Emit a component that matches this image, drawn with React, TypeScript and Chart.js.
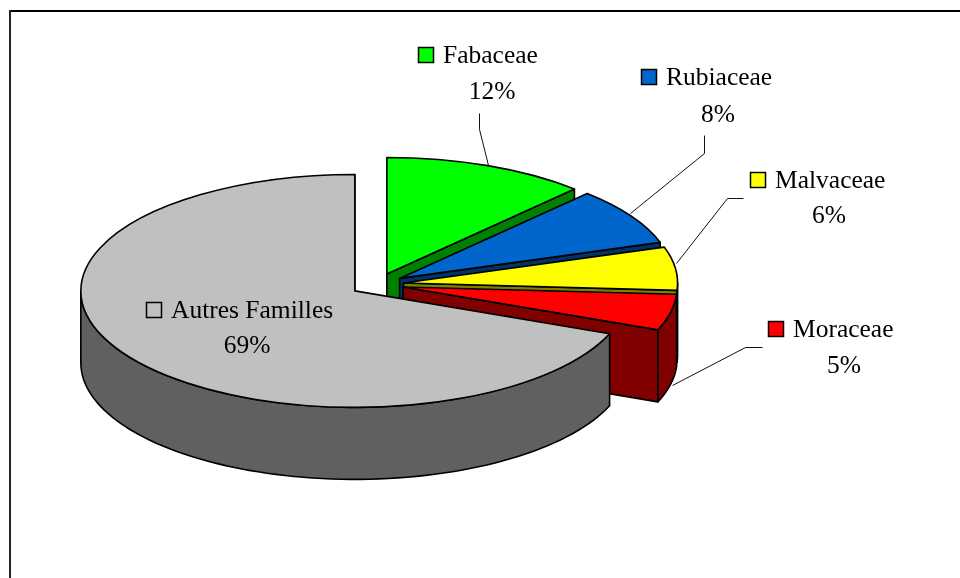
import React, { useEffect, useRef } from "react";
import { Chart, registerables } from "chart.js";

Chart.register(...registerables);

const categories = ["Fabaceae", "Rubiaceae", "Malvaceae", "Moraceae", "Autres Familles"];
const shares = [12, 8, 6, 5, 69];
const topColors = ["#00FF00", "#0066CC", "#FFFF00", "#FF0000", "#C0C0C0"];
const wallColors = ["#008000", "#003366", "#808000", "#800000", "#606060"];

// Label layout: swatch x, name baseline y, percent centre x, percent baseline y
const labelSwatchX = [418, 641, 750, 768, 146];
const labelNameY = [63, 85, 188, 337, 318];
const labelPctX = [492, 718, 829, 844, 247];
const labelPctY = [99, 122, 223, 373, 353];
const leaderLines: number[][][] = [
  [[479, 113], [479, 129], [488, 165]],
  [[704, 135], [704, 153], [630, 213]],
  [[743, 198], [727, 198], [676, 263]],
  [[762, 347], [745, 347], [672, 385]],
];

const TILT = 0.425;
const DEPTH = 72;
const EXPLODE = 26.8;
const RADIUS = 274;
const FONT = '25.5px "Liberation Serif"';

const pie3d = {
  id: "pie3d",
  beforeDraw(chart: any) {
    const { ctx, width, height } = chart;
    ctx.save();
    ctx.fillStyle = "#fff";
    ctx.fillRect(0, 0, width, height);
    ctx.fillStyle = "#000";
    ctx.fillRect(9, 10, width - 9, 2);
    ctx.fillStyle = "#222";
    ctx.fillRect(9, 10, 2, height - 10);
    ctx.restore();
  },
  beforeDatasetDraw(chart: any, args: any) {
    const { ctx } = chart;
    const arcs = args.meta.data;
    const origin = (arc: any) => {
      const mid = (arc.startAngle + arc.endAngle) / 2;
      return [arc.x + EXPLODE * Math.cos(mid), arc.y + EXPLODE * TILT * Math.sin(mid)];
    };
    const rim = (o: number[], r: number, a: number) => [o[0] + r * Math.cos(a), o[1] + r * TILT * Math.sin(a)];
    ctx.save();
    ctx.lineWidth = 1.6;
    ctx.strokeStyle = "#000";
    ctx.lineJoin = "round";
    // Walls, back to front
    arcs.forEach((arc: any, i: number) => {
      const o = origin(arc);
      const r = arc.outerRadius;
      ctx.fillStyle = wallColors[i];
      // start edge line, then cut face
      const s = rim(o, r, arc.startAngle);
      const e = rim(o, r, arc.endAngle);
      if (i === 0) {
        ctx.beginPath();
        ctx.moveTo(o[0], o[1]);
        ctx.lineTo(o[0], o[1] + DEPTH);
        ctx.stroke();
      }
      ctx.beginPath();
      ctx.moveTo(o[0], o[1]);
      ctx.lineTo(e[0], e[1]);
      ctx.lineTo(e[0], e[1] + DEPTH);
      ctx.lineTo(o[0], o[1] + DEPTH);
      ctx.closePath();
      ctx.fill();
      ctx.stroke();
      // outer wall: only the part facing the viewer
      const a0 = Math.max(arc.startAngle, 0);
      const a1 = Math.min(arc.endAngle, Math.PI);
      if (a1 > a0) {
        ctx.beginPath();
        const n = 80;
        for (let k = 0; k <= n; k++) {
          const p = rim(o, r, a0 + ((a1 - a0) * k) / n);
          if (k === 0) ctx.moveTo(p[0], p[1]);
          else ctx.lineTo(p[0], p[1]);
        }
        for (let k = n; k >= 0; k--) {
          const p = rim(o, r, a0 + ((a1 - a0) * k) / n);
          ctx.lineTo(p[0], p[1] + DEPTH);
        }
        ctx.closePath();
        ctx.fill();
        ctx.stroke();
      }
      void s;
    });
    // Tops, drawn by the library's arc elements under an elliptical transform
    arcs.forEach((arc: any) => {
      const o = origin(arc);
      ctx.save();
      ctx.translate(o[0], o[1]);
      ctx.scale(1, TILT);
      ctx.translate(-arc.x, -arc.y);
      arc.draw(ctx);
      ctx.beginPath();
      ctx.moveTo(arc.x, arc.y);
      ctx.arc(arc.x, arc.y, arc.outerRadius, arc.startAngle, arc.endAngle);
      ctx.closePath();
      ctx.restore();
      ctx.stroke();
    });
    ctx.restore();
    return false;
  },
  afterDatasetsDraw(chart: any) {
    const { ctx } = chart;
    ctx.save();
    ctx.strokeStyle = "#111";
    ctx.lineWidth = 1;
    leaderLines.forEach((line) => {
      ctx.beginPath();
      line.forEach((p, k) => (k === 0 ? ctx.moveTo(p[0] + 0.5, p[1] + 0.5) : ctx.lineTo(p[0] + 0.5, p[1] + 0.5)));
      ctx.stroke();
    });
    ctx.font = FONT;
    ctx.textBaseline = "alphabetic";
    categories.forEach((name, i) => {
      const sx = labelSwatchX[i];
      const y = labelNameY[i];
      ctx.fillStyle = topColors[i];
      ctx.strokeStyle = "#000";
      ctx.lineWidth = 1.5;
      ctx.fillRect(sx + 0.5, y - 16 + 0.5, 15, 15);
      ctx.strokeRect(sx + 0.5, y - 16 + 0.5, 15, 15);
      ctx.fillStyle = "#000";
      ctx.textAlign = "left";
      ctx.fillText(name, sx + 25, y);
      ctx.textAlign = "center";
      ctx.fillText(`${shares[i]}%`, labelPctX[i], labelPctY[i]);
    });
    ctx.restore();
  },
};

export default function App() {
  const ref = useRef<HTMLCanvasElement>(null);
  useEffect(() => {
    const chart = new Chart(ref.current as HTMLCanvasElement, {
      type: "pie",
      data: {
        labels: categories,
        datasets: [{ data: shares, backgroundColor: topColors, borderWidth: 0 }],
      },
      options: {
        responsive: false,
        animation: false,
        radius: RADIUS,
        events: [],
        layout: { padding: { right: 206, bottom: 9 } },
        plugins: { legend: { display: false }, tooltip: { enabled: false } },
      } as any,
      plugins: [pie3d as any],
    });
    return () => chart.destroy();
  }, []);
  return (
    <canvas
      ref={ref}
      width={960}
      height={578}
      style={{ position: "fixed", left: 0, top: 0, width: 960, height: 578, display: "block" }}
    />
  );
}
